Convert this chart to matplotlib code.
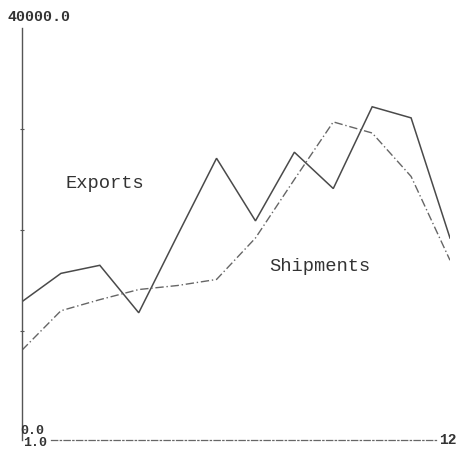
import numpy as np
import matplotlib.pyplot as plt

# monthly series
months = np.arange(1, 13)
exports = [12900, 15700, 16500, 11800, 19500, 27100, 20900, 27700, 24100, 32200, 31100, 19200]
shipments = [8100, 12000, 13100, 14100, 14500, 15100, 19200, 25000, 30700, 29600, 25300, 17000]

y_min, y_max = 0, 40000
y_ticks = [10000, 20000, 30000]

fig = plt.figure(figsize=(4.58, 4.5), dpi=100)
ax = fig.add_axes([22 / 458, 10 / 450, 428 / 458, 412 / 450])

ax.plot(months, exports, color="#4a4a4a", lw=1.1, solid_joinstyle="miter")
ax.plot(months, shipments, color="#666666", lw=1.0, linestyle=(0, (6, 2, 1, 2)))

ax.set_xlim(1, 12)
ax.set_ylim(-800, y_max)

for s in ("top", "right"):
    ax.spines[s].set_visible(False)
ax.spines["left"].set_color("#555555")
ax.spines["left"].set_linewidth(1.0)
ax.spines["bottom"].set_color("#666666")
ax.spines["bottom"].set_linestyle((0, (5, 2, 1, 2)))
ax.spines["bottom"].set_linewidth(0.9)
ax.spines["bottom"].set_bounds(1.75, 11.7)

ax.set_xticks([])
ax.set_yticks(y_ticks)
ax.set_yticklabels([])
ax.tick_params(axis="y", direction="inout", length=3, width=0.8, color="#555555")

mono = dict(family="Liberation Mono", color="#333333", fontweight="bold")
ax.annotate("40000.0", (1, y_max), xytext=(-14, 4), textcoords="offset pixels",
            fontsize=10.8, ha="left", va="bottom", annotation_clip=False, **mono)
ax.annotate("0.0", (1, y_min), xytext=(-2, 1), textcoords="offset pixels",
            fontsize=9.5, ha="left", va="center", annotation_clip=False, **mono)
ax.annotate("1.0", (1, -800), xytext=(1, -3), textcoords="offset pixels",
            fontsize=9.5, ha="left", va="center", annotation_clip=False, **mono)
ax.annotate("12", (12, -800), xytext=(-2, 0), textcoords="offset pixels",
            fontsize=10.5, ha="center", va="center", annotation_clip=False, **mono)

label = dict(family="Liberation Mono", color="#333333")
ax.text(3.13, 24600, "Exports", fontsize=13.5, ha="center", va="center", **label)
ax.text(8.66, 16400, "Shipments", fontsize=13.5, ha="center", va="center", **label)

fig.savefig("out.png", dpi=100)
